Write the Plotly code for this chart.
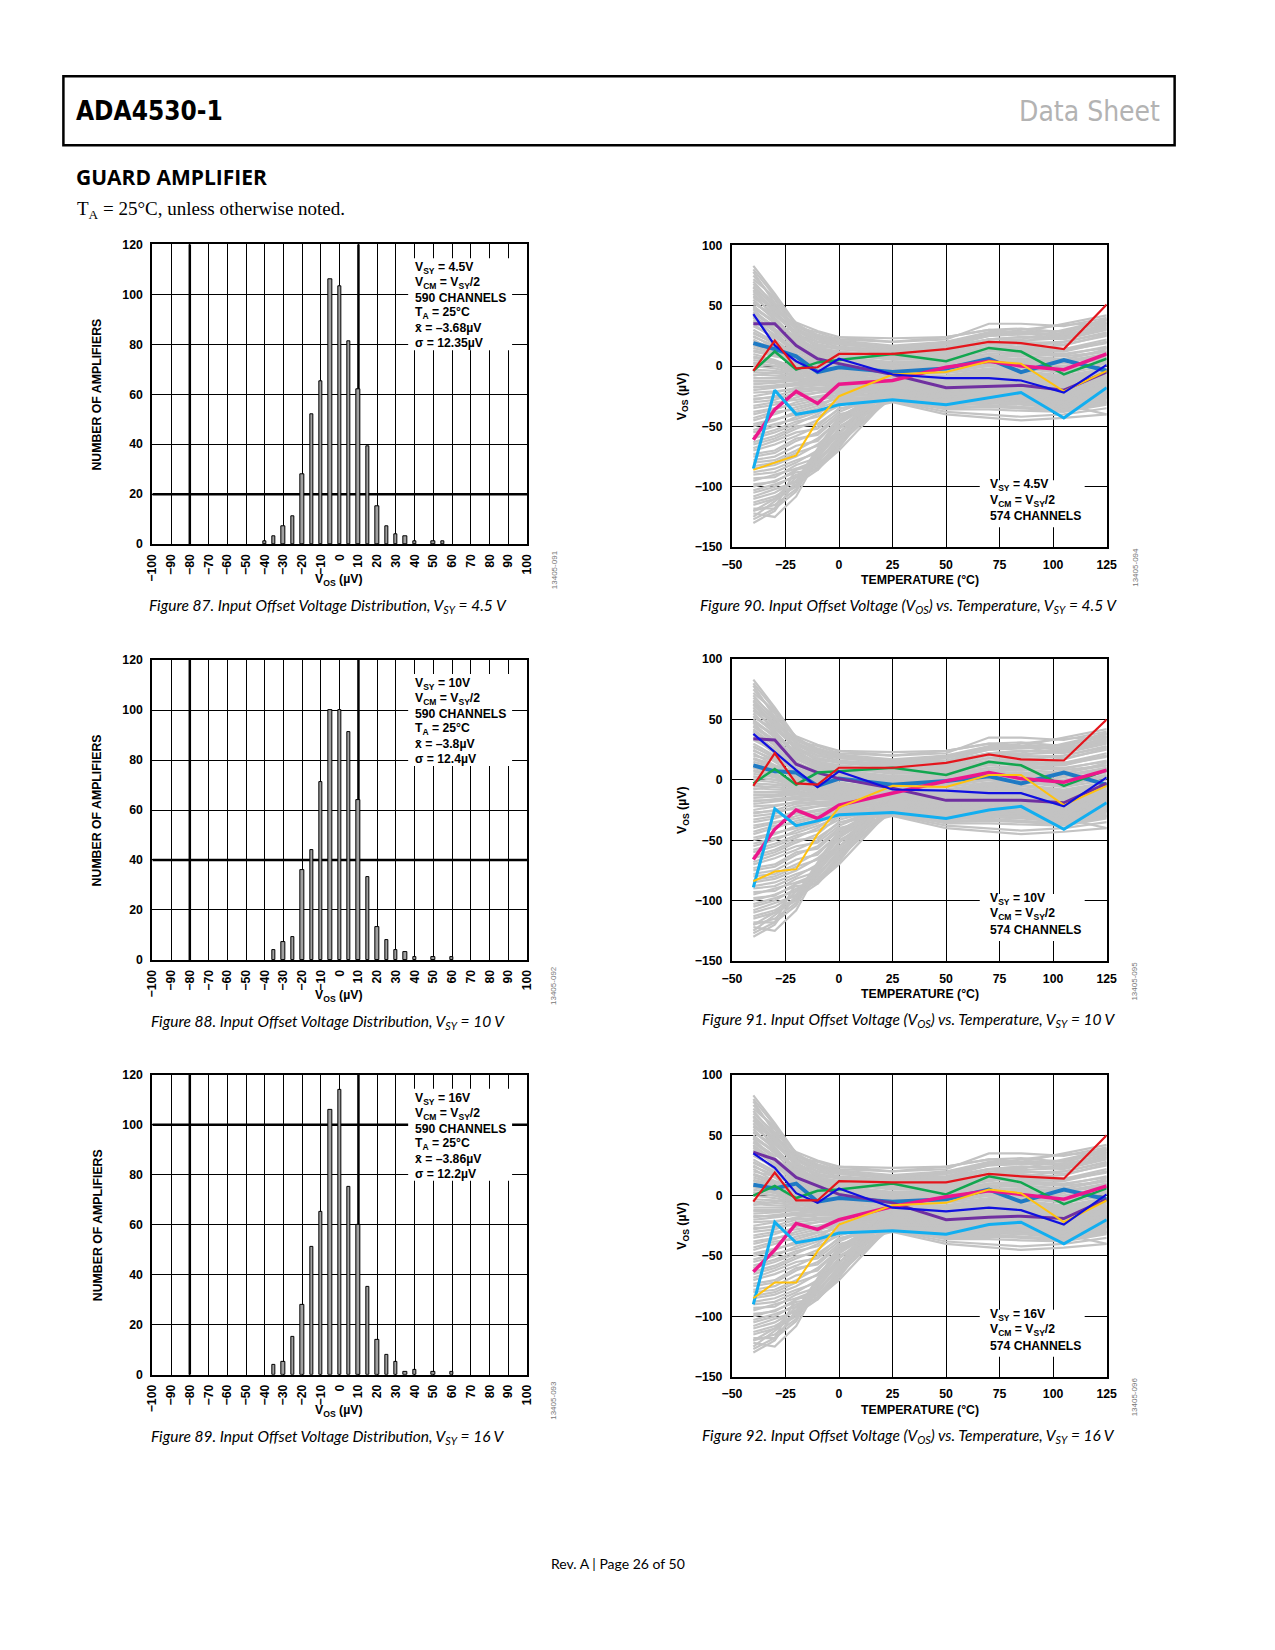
import plotly.graph_objects as go

W, H = 1275, 1650

# ---------------- data ----------------
BIN_CENTERS = [-40, -35, -30, -25, -20, -15, -10, -5, 0, 5, 10, 15, 20, 25, 30, 35, 40, 45, 50, 55, 60]
HIST_87 = [1, 3, 7, 11, 28, 52, 65, 106, 103, 81, 62, 39, 15, 7, 4, 3, 1, 0, 1, 1, 0]
HIST_88 = [0, 4, 7, 9, 36, 44, 71, 100, 100, 91, 64, 33, 13, 8, 4, 3, 1, 0, 1, 0, 1]
HIST_89 = [0, 4, 5, 15, 28, 51, 65, 106, 114, 75, 60, 35, 14, 8, 5, 1, 2, 0, 1, 0, 1]

HIST_X_TICKS = list(range(-100, 101, 10))
HIST_Y_TICKS = [0, 20, 40, 60, 80, 100, 120]

HIST_LABELS = [
    ["V<sub>SY</sub> = 4.5V", "V<sub>CM</sub> = V<sub>SY</sub>/2", "590 CHANNELS",
     "T<sub>A</sub> = 25°C", "x̄ = –3.68µV", "σ = 12.35µV"],
    ["V<sub>SY</sub> = 10V", "V<sub>CM</sub> = V<sub>SY</sub>/2", "590 CHANNELS",
     "T<sub>A</sub> = 25°C", "x̄ = –3.8µV", "σ = 12.4µV"],
    ["V<sub>SY</sub> = 16V", "V<sub>CM</sub> = V<sub>SY</sub>/2", "590 CHANNELS",
     "T<sub>A</sub> = 25°C", "x̄ = –3.86µV", "σ = 12.2µV"],
]

TEMPS = [-40, -30, -20, -10, 0, 25, 50, 70, 85, 105, 125]
TEMP_X_TICKS = [-50, -25, 0, 25, 50, 75, 100, 125]
TEMP_Y_TICKS = [-150, -100, -50, 0, 50, 100]

# grey population of channels (read by eye, shared by the three temperature plots)
GRAY_CURVES = [
    [83, 60, 35, 25, 20, 15, 18, 25, 27, 25, 35],
    [80, 58, 33, 24, 19, 14, 16, 22, 24, 24, 32],
    [78, 52, 36, 29, 24, 23, 24, 30, 31, 28, 36],
    [75, 55, 30, 22, 18, 14, 15, 22, 24, 22, 30],
    [72, 57, 34, 26, 21, 17, 20, 26, 27, 26, 34],
    [70, 50, 32, 28, 22, 20, 22, 35, 35, 33, 40],
    [68, 52, 25, 18, 14, 10, 12, 18, 20, 18, 25],
    [66, 49, 31, 23, 19, 16, 19, 27, 28, 29, 39],
    [65, 45, 28, 15, 12, 8, 10, 15, 16, 20, 28],
    [63, 47, 24, 14, 11, 7, 9, 14, 15, 17, 26],
    [62, 44, 26, 20, 16, 13, 18, 26, 30, 34, 36],
    [60, 40, 22, 12, 10, 5, 6, 12, 14, 14, 20],
    [58, 48, 30, 20, 24, 20, 24, 30, 28, 35, 42],
    [57, 43, 26, 17, 14, 11, 13, 20, 21, 23, 31],
    [55, 38, 20, 10, 8, 3, 4, 10, 12, 10, 15],
    [53, 39, 21, 13, 11, 6, 8, 13, 14, 13, 19],
    [52, 42, 27, 16, 15, 12, 16, 25, 26, 27, 38],
    [50, 35, 18, 8, 5, 0, 2, 8, 10, 8, 12],
    [49, 37, 23, 14, 11, 9, 11, 18, 19, 20, 27],
    [48, 36, 24, 18, 15, 12, 14, 22, 22, 30, 38],
    [47, 30, 15, 6, 4, -2, 0, 5, 6, 4, 10],
    [45, 33, 29, 20, 18, 15, 20, 28, 28, 26, 33],
    [44, 31, 17, 9, 7, 3, 5, 10, 11, 9, 16],
    [42, 28, 12, 5, 2, -4, -3, 2, 3, 0, 6],
    [41, 29, 19, 11, 9, 6, 7, 13, 13, 12, 20],
    [40, 25, 10, 2, 0, -6, -5, 0, 0, -3, 4],
    [38, 30, 20, 15, 12, 8, 10, 16, 18, 14, 22],
    [37, 26, 14, 7, 5, 1, 3, 7, 8, 6, 12],
    [35, 22, 8, 0, -2, -8, -8, -3, -2, -6, 0],
    [33, 24, 13, 5, 3, -1, 1, 5, 6, 4, 9],
    [30, 20, 6, -2, -4, -10, -10, -6, -5, -10, -4],
    [28, 18, 12, 8, 6, 2, 4, 8, 9, 5, 14],
    [27, 19, 9, 3, 1, -4, -3, 1, 1, -2, 4],
    [25, 15, 4, -4, -6, -12, -13, -8, -9, -14, -8],
    [24, 17, 8, 1, 0, -5, -4, 0, 0, -4, 2],
    [22, 12, 2, -6, -8, -14, -15, -10, -12, -16, -10],
    [20, 16, 10, 4, 4, 0, 2, 5, 6, 3, 8],
    [18, 12, 7, 2, 2, -2, -1, 3, 4, 0, 7],
    [17, 11, 5, -3, -4, -9, -9, -5, -5, -9, -3],
    [15, 10, 0, -8, -10, -16, -18, -14, -15, -20, -14],
    [13, 9, 3, -3, -5, -10, -11, -6, -7, -11, -6],
    [12, 8, 5, 0, 1, -3, -2, 2, 2, -2, 2],
    [10, 5, -2, -10, -12, -17, -20, -16, -16, -22, -16],
    [8, 4, 0, -5, -7, -12, -11, -7, -7, -12, -5],
    [7, 3, -3, -7, -8, -13, -14, -10, -10, -15, -9],
    [5, 2, -4, -6, -5, -9, -8, -4, -4, -8, -2],
    [3, 0, -1, -3, -3, -7, -6, -2, -1, -5, 3],
    [2, 0, -5, -9, -11, -15, -16, -12, -13, -17, -11],
    [0, -2, -6, -12, -14, -18, -22, -18, -18, -24, -18],
    [-3, -4, -7, -10, -12, -17, -19, -15, -16, -19, -13],
    [-5, -6, -8, -9, -9, -11, -12, -9, -10, -14, -6],
    [-7, -8, -9, -12, -13, -19, -21, -17, -18, -22, -15],
    [-8, -5, -3, -1, 0, -1, 1, 6, 5, 2, 10],
    [-10, -10, -10, -14, -15, -20, -24, -20, -21, -26, -20],
    [-12, -12, -11, -13, -12, -16, -18, -14, -15, -20, -12],
    [-13, -13, -12, -15, -16, -21, -23, -19, -20, -25, -17],
    [-15, -14, -12, -11, -10, -13, -14, -12, -13, -18, -10],
    [-17, -17, -15, -16, -17, -23, -25, -21, -22, -27, -21],
    [-18, -16, -14, -14, -13, -18, -20, -16, -17, -21, -14],
    [-20, -18, -16, -18, -18, -22, -26, -22, -23, -28, -22],
    [-22, -21, -19, -19, -19, -25, -27, -24, -25, -29, -23],
    [-25, -22, -18, -16, -14, -15, -17, -15, -16, -20, -12],
    [-27, -26, -24, -22, -21, -26, -29, -27, -28, -31, -25],
    [-28, -25, -20, -19, -19, -24, -28, -26, -27, -32, -40],
    [-30, -28, -22, -20, -20, -23, -28, -25, -25, -30, -24],
    [-33, -30, -28, -25, -22, -27, -31, -29, -30, -33, -27],
    [-35, -32, -26, -22, -17, -17, -19, -17, -18, -22, -15],
    [-38, -35, -32, -28, -25, -28, -33, -31, -32, -35, -29],
    [-40, -36, -30, -26, -24, -25, -30, -28, -28, -32, -26],
    [-43, -38, -36, -31, -27, -29, -35, -34, -35, -37, -31],
    [-45, -40, -34, -30, -20, -19, -21, -19, -20, -24, -17],
    [-48, -44, -40, -35, -29, -24, -27, -25, -26, -29, -22],
    [-50, -45, -38, -33, -26, -26, -32, -30, -30, -34, -28],
    [-53, -48, -44, -38, -31, -23, -25, -23, -24, -27, -20],
    [-55, -50, -42, -36, -22, -21, -23, -21, -22, -26, -19],
    [-58, -53, -46, -42, -33, -22, -24, -22, -23, -28, -21],
    [-60, -55, -48, -40, -28, -27, -34, -33, -34, -36, -30],
    [-63, -58, -50, -48, -36, -21, -22, -20, -21, -25, -18],
    [-65, -60, -52, -45, -30, -28, -36, -36, -37, -38, -32],
    [-68, -62, -55, -52, -38, -20, -21, -18, -19, -23, -16],
    [-70, -65, -58, -50, -35, -29, -38, -40, -42, -40, -35],
    [-73, -70, -60, -57, -42, -19, -20, -17, -18, -22, -14],
    [-75, -72, -62, -55, -40, -30, -40, -43, -45, -43, -40],
    [-78, -75, -66, -62, -44, -18, -19, -16, -17, -21, -13],
    [-80, -78, -70, -60, -45, -28, -30, -32, -34, -37, -30],
    [-83, -80, -72, -66, -47, -17, -18, -15, -16, -20, -12],
    [-85, -82, -75, -65, -50, -27, -28, -29, -30, -33, -26],
    [-88, -85, -78, -72, -52, -16, -17, -14, -15, -19, -11],
    [-90, -88, -80, -70, -55, -26, -27, -28, -29, -31, -25],
    [-93, -92, -82, -76, -56, -15, -16, -13, -14, -18, -10],
    [-95, -90, -85, -78, -60, -25, -26, -27, -28, -30, -24],
    [-98, -96, -86, -80, -60, -14, -15, -12, -13, -17, -9],
    [-100, -95, -88, -86, -65, -24, -25, -26, -27, -29, -23],
    [-103, -98, -92, -82, -64, -13, -14, -11, -12, -16, -8],
    [-105, -100, -90, -85, -70, -23, -24, -25, -26, -28, -22],
    [-108, -102, -96, -84, -66, -12, -13, -10, -11, -15, -7],
    [-110, -105, -95, -80, -58, -22, -23, -24, -25, -27, -21],
    [-113, -108, -98, -86, -68, -11, -12, -9, -10, -14, -6],
    [-115, -110, -100, -75, -52, -21, -22, -23, -24, -26, -20],
    [-118, -118, -85, -84, -62, -26, -28, -30, -31, -34, -26],
    [-120, -115, -102, -72, -48, -20, -21, -22, -23, -25, -19],
    [-120, -110, -92, -78, -62, -10, -11, -8, -9, -13, -5],
    [-122, -125, -108, -76, -55, -24, -25, -27, -28, -30, -22],
    [-125, -112, -98, -70, -45, -19, -20, -21, -22, -24, -18],
    [-127, -118, -104, -74, -56, -9, -10, -7, -8, -12, -4],
    [-130, -120, -95, -68, -42, -18, -19, -20, -21, -23, -17],
]

FIG90 = {
    "steelblue": [19, 14, 8, -5, -1, -5, -2, 6, -5, 5, -4],
    "purple": [35, 35, 17, 6, 2, -7, -18, -17, -16, -20, -5],
    "green": [-4, 12, -3, 3, 5, 10, 4, 15, 12, -7, 6],
    "magenta": [-61, -36, -21, -31, -15, -12, -1, 4, 0, -3, 10],
    "cyan": [-85, -20, -40, -37, -32, -28, -32, -26, -22, -43, -18],
    "yellow": [-86, -80, -74, -45, -25, -7, -5, 4, 2, -21, -4],
    "blue": [43, 17, 4, -5, 6, -7, -10, -10, -12, -22, 1],
    "red": [-4, 21, -2, -1, 10, 10, 14, 20, 19, 14, 51],
}
FIG91 = {
    "steelblue": [12, 7, 6, -5, 1, -4, -1, 3, -3, 6, -4],
    "purple": [34, 33, 13, 6, 1, -7, -17, -17, -17, -19, -3],
    "green": [-3, 9, -4, 6, 7, 10, 4, 15, 12, -5, 8],
    "magenta": [-66, -41, -25, -32, -21, -11, -1, 6, 1, -2, 8],
    "cyan": [-89, -24, -38, -34, -29, -27, -32, -25, -22, -41, -19],
    "yellow": [-84, -76, -74, -45, -23, -5, -6, 4, 4, -21, -5],
    "blue": [38, 23, 8, -6, 7, -8, -9, -11, -11, -22, 2],
    "red": [-5, 22, -3, -4, 10, 10, 14, 21, 17, 16, 50],
}
FIG92 = {
    "steelblue": [9, 6, 10, -5, -2, -5, -3, 5, -5, 5, -3],
    "purple": [36, 30, 15, 8, 1, -6, -20, -18, -17, -19, -3],
    "green": [0, 8, -2, 4, 5, 10, 1, 16, 11, -7, 6],
    "magenta": [-63, -45, -23, -28, -20, -9, -1, 4, 1, -3, 8],
    "cyan": [-90, -22, -39, -36, -31, -29, -32, -24, -22, -40, -20],
    "yellow": [-85, -72, -72, -46, -24, -8, -6, 5, 2, -22, -4],
    "blue": [35, 23, 2, -6, 6, -10, -13, -10, -12, -24, 1],
    "red": [-5, 19, -4, -4, 12, 11, 11, 18, 16, 14, 50],
}

TEMP_LABELS = [
    ["V<sub>SY</sub> = 4.5V", "V<sub>CM</sub> = V<sub>SY</sub>/2", "574 CHANNELS"],
    ["V<sub>SY</sub> = 10V", "V<sub>CM</sub> = V<sub>SY</sub>/2", "574 CHANNELS"],
    ["V<sub>SY</sub> = 16V", "V<sub>CM</sub> = V<sub>SY</sub>/2", "574 CHANNELS"],
]

HIST_CAPTIONS = [
    "Figure 87. Input Offset Voltage Distribution, V<sub>SY</sub> = 4.5 V",
    "Figure 88. Input Offset Voltage Distribution, V<sub>SY</sub> = 10 V",
    "Figure 89. Input Offset Voltage Distribution, V<sub>SY</sub> = 16 V",
]
TEMP_CAPTIONS = [
    "Figure 90. Input Offset Voltage (V<sub>OS</sub>) vs. Temperature, V<sub>SY</sub> = 4.5 V",
    "Figure 91. Input Offset Voltage (V<sub>OS</sub>) vs. Temperature, V<sub>SY</sub> = 10 V",
    "Figure 92. Input Offset Voltage (V<sub>OS</sub>) vs. Temperature, V<sub>SY</sub> = 16 V",
]
HIST_CODES = ["13405-091", "13405-092", "13405-093"]
TEMP_CODES = ["13405-094", "13405-095", "13405-096"]
HIST_THICK_H = [20, 40, 100]

# ---------------- styling / layout ----------------
ARIAL = "Liberation Sans, Arial, sans-serif"
MYRIAD = "Lato, Noto Sans, sans-serif"
NARROW = "DejaVu Sans Condensed, Liberation Sans Narrow, sans-serif"
COLORS = {
    "steelblue": ("#1f7ac4", 4.0),
    "purple": ("#7030a0", 3.0),
    "green": ("#12a64f", 2.5),
    "magenta": ("#ec178c", 3.5),
    "cyan": ("#12aef0", 3.0),
    "yellow": ("#ffc20e", 2.0),
    "blue": ("#1010e0", 2.2),
    "red": ("#e4151c", 2.2),
}

HX = (152, 527)
TX = (732, 1107)
H_ROWS = [(244, 544), (660, 960), (1075, 1375)]
T_ROWS = [(245, 547), (659, 961), (1075, 1377)]

# the page photo comes out slightly shrunk about its centre; pre-compensate
SX, SY = 0.985, 0.992


def px(x):
    return (W / 2 + (x - W / 2) / SX) / W


def py(y):
    return 1 - (H / 2 + (y - H / 2) / SY) / H


fig = go.Figure()
annotations = []
shapes = []


def ann(text, x, y, size=12, xanchor="center", yanchor="middle", angle=0,
        color="black", family=ARIAL, bold=True):
    t = "<b>" + text + "</b>" if bold else text
    annotations.append(dict(text=t, x=px(x), y=py(y), xref="paper", yref="paper",
                            xanchor=xanchor, yanchor=yanchor, showarrow=False,
                            textangle=angle, font=dict(size=size, color=color, family=family)))


def minus(v):
    return str(v).replace("-", "−")


tickfont = dict(family=ARIAL, size=12.3, color="black", weight="bold")
axis_common = dict(showgrid=True, gridcolor="black", gridwidth=1, showline=True,
                   linecolor="black", linewidth=2, mirror=True, zeroline=False,
                   ticks="", tickfont=tickfont, fixedrange=True)

hists = [HIST_87, HIST_88, HIST_89]
temps = [FIG90, FIG91, FIG92]

layout_axes = {}
for i in range(3):
    # ---- histogram
    n = 2 * i + 1
    xa = "x" if n == 1 else f"x{n}"
    ya = "y" if n == 1 else f"y{n}"
    top, bot = H_ROWS[i]
    xs = [c for c, v in zip(BIN_CENTERS, hists[i]) if v > 0]
    ys = [v for v in hists[i] if v > 0]
    fig.add_trace(go.Bar(x=xs, y=ys, width=1.8, xaxis=xa, yaxis=ya,
                         marker=dict(color="#a0a0a0", line=dict(color="black", width=1)),
                         showlegend=False))
    layout_axes["xaxis" if n == 1 else f"xaxis{n}"] = dict(
        axis_common, domain=[px(HX[0]), px(HX[1])], range=[-100, 100], anchor=ya,
        tickvals=HIST_X_TICKS, ticktext=[minus(v) for v in HIST_X_TICKS],
        tickangle=-90, ticklabelstandoff=3)
    layout_axes["yaxis" if n == 1 else f"yaxis{n}"] = dict(
        axis_common, domain=[py(bot), py(top)], range=[0, 120], anchor=xa,
        tickvals=HIST_Y_TICKS, ticklabelstandoff=5)
    xr, yr = xa, ya
    for xv in (-80, 10):
        shapes.append(dict(type="line", xref=xr, yref=yr, x0=xv, x1=xv, y0=0, y1=120,
                           line=dict(color="black", width=2.5), layer="below"))
    shapes.append(dict(type="line", xref=xr, yref=yr, x0=-100, x1=100,
                       y0=HIST_THICK_H[i], y1=HIST_THICK_H[i],
                       line=dict(color="black", width=2.5), layer="below"))
    shapes.append(dict(type="rect", xref="paper", yref="paper", x0=px(408), x1=px(512),
                       y0=py(top + 106), y1=py(top + 14), fillcolor="white",
                       line=dict(width=0), layer="above"))
    for k, line in enumerate(HIST_LABELS[i]):
        ann(line, 413, top + 24 + 15 * k, size=12.2, xanchor="left")
    ann("V<sub>OS</sub> (µV)", 339, bot + 36, size=12.3)
    ann("NUMBER OF AMPLIFIERS", 97, (top + bot) / 2, size=12.3, angle=-90)
    ann(HIST_CODES[i], 554, bot + 26, size=8, angle=-90, color="#777777", bold=False)
    ann("<i>" + HIST_CAPTIONS[i] + "</i>", 328, bot + 62, size=15.5, family=MYRIAD, bold=False)

    # ---- temperature plot
    n = 2 * i + 2
    xa = f"x{n}"
    ya = f"y{n}"
    top, bot = T_ROWS[i]
    gx, gy = [], []
    for curve in GRAY_CURVES:
        gx += TEMPS + [None]
        gy += curve + [None]
    fig.add_trace(go.Scatter(x=gx, y=gy, mode="lines", xaxis=xa, yaxis=ya,
                             line=dict(color="#c3c3c3", width=2.2), showlegend=False,
                             hoverinfo="skip"))
    for name in ["steelblue", "purple", "green", "magenta", "cyan", "yellow", "blue", "red"]:
        col, wid = COLORS[name]
        fig.add_trace(go.Scatter(x=TEMPS, y=temps[i][name], mode="lines", xaxis=xa, yaxis=ya,
                                 line=dict(color=col, width=wid), showlegend=False))
    layout_axes[f"xaxis{n}"] = dict(
        axis_common, domain=[px(TX[0]), px(TX[1])], range=[-50, 125], anchor=ya,
        tickvals=TEMP_X_TICKS, ticktext=[minus(v) for v in TEMP_X_TICKS], ticklabelstandoff=5)
    layout_axes[f"yaxis{n}"] = dict(
        axis_common, domain=[py(bot), py(top)], range=[-150, 100], anchor=xa,
        tickvals=TEMP_Y_TICKS, ticktext=[minus(v) for v in TEMP_Y_TICKS], ticklabelstandoff=5)
    shapes.append(dict(type="rect", xref="paper", yref="paper", x0=px(980), x1=px(1085),
                       y0=py(bot - 20), y1=py(bot - 67), fillcolor="white",
                       line=dict(width=0), layer="above"))
    for k, line in enumerate(TEMP_LABELS[i]):
        ann(line, 988, bot - 62 + 15.5 * k, size=12.2, xanchor="left")
    ann("TEMPERATURE (°C)", 920, bot + 33, size=12.3)
    ann("V<sub>OS</sub> (µV)", 683, (top + bot) / 2, size=12.3, angle=-90)
    ann(TEMP_CODES[i], 1135, bot + 20, size=8, angle=-90, color="#777777", bold=False)
    ann("<i>" + TEMP_CAPTIONS[i] + "</i>", 909, bot + 59, size=15.5, family=MYRIAD, bold=False)

# ---------------- page furniture ----------------
shapes.append(dict(type="rect", xref="paper", yref="paper", x0=px(63), x1=px(1175),
                   y0=py(145), y1=py(76), line=dict(color="black", width=2.5), layer="above"))
ann("ADA4530-1", 74, 111, size=26, xanchor="left", family=NARROW)
ann("Data Sheet", 1162, 111, size=28, xanchor="right", color="#b3b3b3", family=NARROW, bold=False)
ann("GUARD AMPLIFIER", 74, 177, size=21, xanchor="left", family="Open Sans, Noto Sans, sans-serif")
ann("T<sub>A</sub> = 25°C, unless otherwise noted.", 75, 210, size=19, xanchor="left",
    family="Liberation Serif, Times New Roman, serif", bold=False)
ann("Rev. A | Page 26 of 50", 618, 1564, size=14, family=MYRIAD, bold=False)

fig.update_layout(width=W, height=H, margin=dict(l=0, r=0, t=0, b=0),
                  paper_bgcolor="white", plot_bgcolor="white", bargap=0,
                  annotations=annotations, shapes=shapes, showlegend=False, **layout_axes)

fig.write_html("out.html", config={"displayModeBar": False})
